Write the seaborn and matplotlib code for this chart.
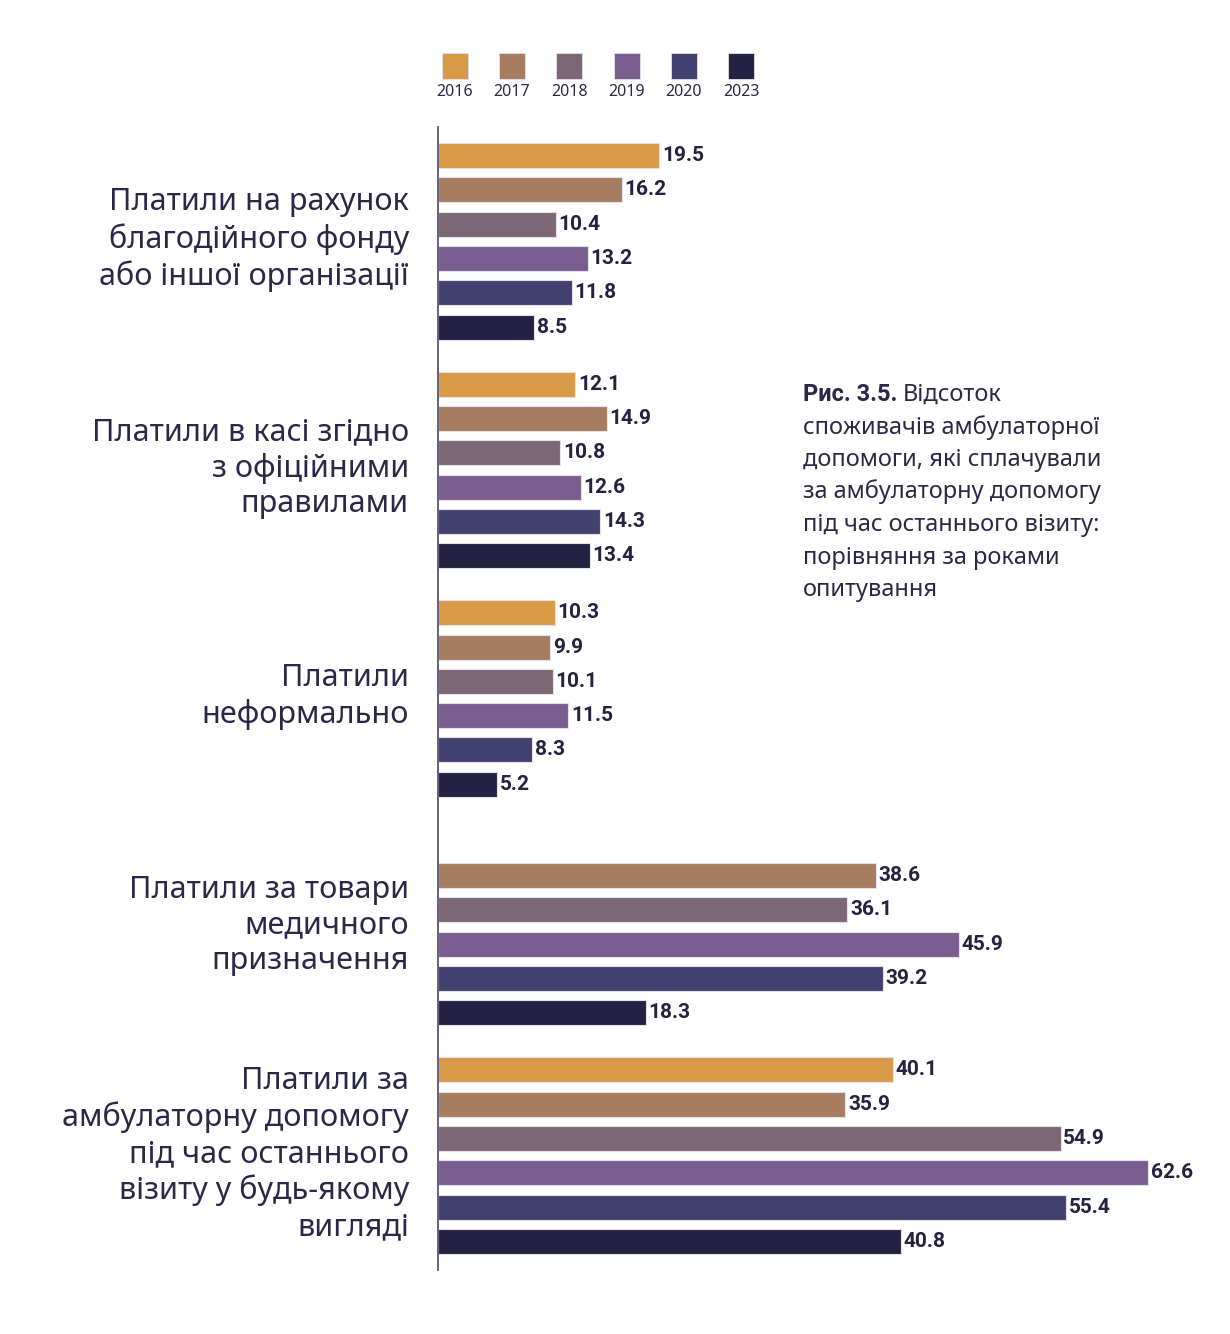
import numpy as np
import pandas as pd
import matplotlib
matplotlib.use("Agg")
import matplotlib.pyplot as plt
import matplotlib.transforms as mtransforms
import seaborn as sns

# Data
categories = [
    "Платили на рахунок\nблагодійного фонду\nабо іншої організації",
    "Платили в касі згідно\nз офіційними\nправилами",
    "Платили\nнеформально",
    "Платили за товари\nмедичного\nпризначення",
    "Платили за\nамбулаторну допомогу\nпід час останнього\nвізиту у будь-якому\nвигляді",
]
years = ["2016", "2017", "2018", "2019", "2020", "2023"]
v2016 = [19.5, 12.1, 10.3, np.nan, 40.1]
v2017 = [16.2, 14.9, 9.9, 38.6, 35.9]
v2018 = [10.4, 10.8, 10.1, 36.1, 54.9]
v2019 = [13.2, 12.6, 11.5, 45.9, 62.6]
v2020 = [11.8, 14.3, 8.3, 39.2, 55.4]
v2023 = [8.5, 13.4, 5.2, 18.3, 40.8]
colors = ["#D99A48", "#A67D61", "#7D6775", "#7B5E8F", "#43416F", "#232242"]

series = [v2016, v2017, v2018, v2019, v2020, v2023]
rows = []
for yr, vals in zip(years, series):
    for cat, v in zip(categories, vals):
        if not np.isnan(v):
            rows.append({"category": cat, "year": yr, "value": v})
df = pd.DataFrame(rows)

sns.set_style("white")
plt.rcParams["font.family"] = ["Noto Sans", "DejaVu Sans"]
bold_font = ["Roboto", "DejaVu Sans"]
text_col = "#2A2848"

W, H = 1230, 1334
fig = plt.figure(figsize=(W / 100, H / 100), dpi=100)
ax = fig.add_axes([438 / W, 1 - 1270 / H, (1215 - 438) / W, (1270 - 127) / H])

sns.barplot(data=df, y="category", x="value", hue="year", order=categories,
            hue_order=years, palette=colors, saturation=1, orient="h", width=0.9,
            gap=0.27, errorbar=None, legend=False, edgecolor="#E4E0EC",
            linewidth=0.8, ax=ax)

for cont in ax.containers:
    ax.bar_label(cont, fmt="%.1f", padding=2, fontsize=15, fontweight="bold",
                 family=bold_font, color="#24223F")

ax.set_xlim(0, (1215 - 438) / 11.34)
ax.set_ylim(4.5, -0.5)
ax.set_xlabel("")
ax.set_ylabel("")
ax.set_xticks([])
for s in ["top", "right", "bottom"]:
    ax.spines[s].set_visible(False)
ax.spines["left"].set_color("#5A5470")
ax.spines["left"].set_linewidth(1.3)
ax.tick_params(axis="y", length=0, pad=21, labelsize=22, labelcolor=text_col)
shift_up = mtransforms.ScaledTranslation(0, 8 / 100, fig.dpi_scale_trans)
for lab in ax.get_yticklabels():
    lab.set_linespacing(1.24)
    lab.set_horizontalalignment("right")
    lab.set_transform(lab.get_transform() + shift_up)

# Legend: squares with year labels below
lax = fig.add_axes([426 / W, 1 - 105 / H, (770 - 426) / W, 65 / H])
lax.set_xlim(-0.5, 5.5)
lax.set_ylim(0, 1)
lax.axis("off")
for i, (yr, c) in enumerate(zip(years, colors)):
    lax.scatter(i, 0.6, marker="s", s=340, color=c, edgecolor="#E4E0EC", linewidth=0.6)
    lax.text(i, 0.2, yr, ha="center", va="center", fontsize=11.5, color=text_col)

# Caption
cap_lines = [
    "споживачів амбулаторної",
    "допомоги, які сплачували",
    "за амбулаторну допомогу",
    "під час останнього візиту:",
    "порівняння за роками",
    "опитування",
]
x0 = 803 / W
base0 = 401
t = fig.text(x0, 1 - base0 / H, "Рис. 3.5.", fontsize=17, fontweight="bold",
             family=bold_font, color=text_col, va="baseline")
fig.canvas.draw()
bb = t.get_window_extent(renderer=fig.canvas.get_renderer())
fig.text(bb.x1 / W + 5 / W, 1 - base0 / H, "Відсоток", fontsize=17, color=text_col,
         va="baseline")
for i, line in enumerate(cap_lines):
    fig.text(x0, 1 - (base0 + 32.5 * (i + 1)) / H, line, fontsize=17, color=text_col,
             va="baseline")

fig.savefig("out.png", dpi=100, facecolor="white")
